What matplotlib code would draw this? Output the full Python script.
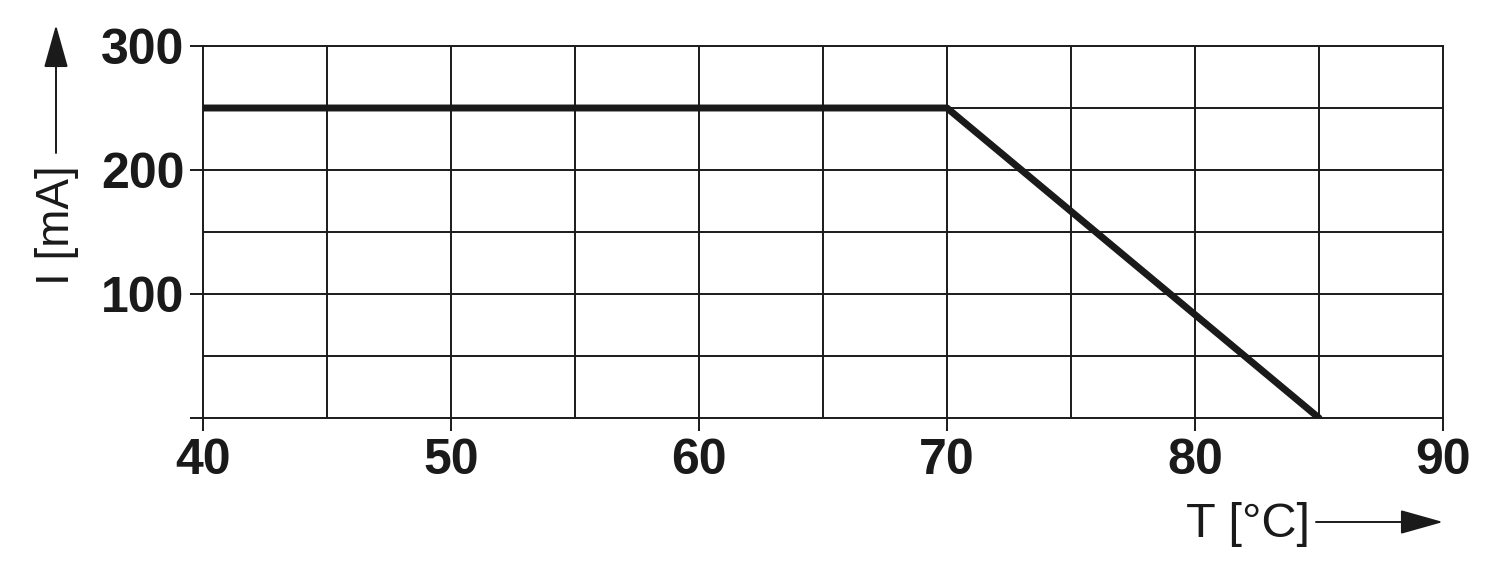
import matplotlib.pyplot as plt
from matplotlib.patches import FancyArrowPatch
import numpy as np

# derating curve: current vs temperature
temp = [40, 70, 85]
current = [250, 250, 0]

x_ticks = [40, 50, 60, 70, 80, 90]
y_ticks = [0, 100, 200, 300]
y_tick_labels = ['', '100', '200', '300']

plt.rcParams['font.family'] = ['Liberation Sans', 'DejaVu Sans']

fig = plt.figure(figsize=(15, 5.86), dpi=100)
ax = fig.add_axes([203 / 1500, 1 - 418 / 586, 1240 / 1500, 372 / 586])

# grid every 5 degC / 50 mA
for xv in np.arange(45, 90, 5):
    ax.axvline(xv, color='#1a1a1a', lw=1.4, zorder=1)
for yv in np.arange(50, 300, 50):
    ax.axhline(yv, color='#1a1a1a', lw=1.4, zorder=1)

ax.plot(temp, current, color='#1a1a1a', lw=5, solid_capstyle='round', zorder=3)

ax.set_xlim(40, 90)
ax.set_ylim(0, 300)
for s in ax.spines.values():
    s.set_linewidth(1.4)
    s.set_color('#1a1a1a')

ax.set_xticks(x_ticks)
ax.set_yticks(y_ticks)
ax.set_yticklabels(y_tick_labels)
ax.tick_params(axis='both', direction='out', length=9.5, width=1.4, color='#1a1a1a',
               labelsize=36, labelcolor='#1a1a1a')
ax.tick_params(axis='x', pad=5)
ax.tick_params(axis='y', pad=4)
for lbl in ax.get_xticklabels() + ax.get_yticklabels():
    lbl.set_fontweight('bold')

# axis labels with arrows
fig.text(1310 / 1500, 1 - 537 / 586, 'T [°C]', ha='right', va='baseline', fontsize=35, color='#1a1a1a')
fig.add_artist(FancyArrowPatch((1316 / 1500, 1 - 522 / 586), (1443 / 1500, 1 - 522 / 586),
                               transform=fig.transFigure, arrowstyle='-|>,head_length=1.35,head_width=0.38',
                               mutation_scale=20, shrinkA=0, shrinkB=0, lw=1.4, color='#1a1a1a'))

fig.text(79 / 1500, 1 - 285 / 586, 'I [mA]', ha='right', va='bottom', rotation=90, fontsize=33,
         color='#1a1a1a')
fig.add_artist(FancyArrowPatch((56 / 1500, 1 - 153 / 586), (56 / 1500, 1 - 25 / 586),
                               transform=fig.transFigure, arrowstyle='-|>,head_length=1.35,head_width=0.38',
                               mutation_scale=20, shrinkA=0, shrinkB=0, lw=1.4, color='#1a1a1a'))

plt.savefig('out.png', dpi=100)
